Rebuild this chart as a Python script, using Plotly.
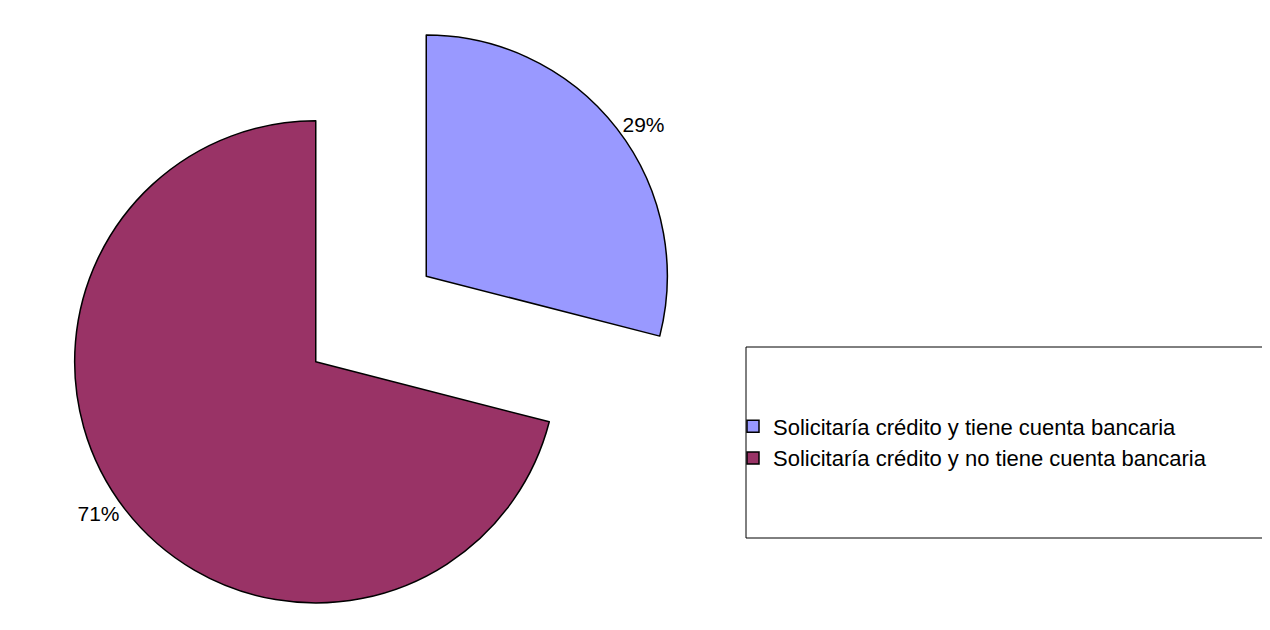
import plotly.graph_objects as go

categories = [
    "Solicitaría crédito y tiene cuenta bancaria",
    "Solicitaría crédito y no tiene cuenta bancaria",
]
values = [29, 71]
colors = ["#9999FF", "#993366"]

# page body has an 8px margin; size the figure to fill the rest of the window
OFF = 8
W, H = 1270 - OFF, 630 - OFF

fig = go.Figure()
cx = (371 - OFF) / W
fig.add_trace(go.Pie(
    labels=categories,
    values=values,
    sort=False,
    direction="clockwise",
    rotation=0,
    pull=[0.29, 0.29],
    marker=dict(colors=colors, line=dict(color="black", width=1.5)),
    textinfo="percent",
    textposition="outside",
    textfont=dict(family="Liberation Sans, Arial", size=21, color="black"),
    domain=dict(x=[cx - 0.25, cx + 0.25], y=[0.0, 1.0]),
    automargin=False,
    hoverinfo="label+percent",
))

# legend frame (screen coordinates of the reference, minus body offset)
lx0, lx1, ly0, ly1 = 746 - OFF, 1275 - OFF, 347 - OFF, 538 - OFF
fig.add_shape(type="rect", xref="paper", yref="paper",
              x0=lx0 / W, x1=lx1 / W, y0=1 - ly1 / H, y1=1 - ly0 / H,
              line=dict(color="black", width=1), fillcolor="rgba(0,0,0,0)")

fig.update_layout(
    width=W, height=H,
    margin=dict(l=0, r=0, t=0, b=0),
    paper_bgcolor="white",
    plot_bgcolor="white",
    showlegend=True,
    legend=dict(
        x=(733 - OFF) / W, y=1 - ((ly0 + ly1) / 2) / H,
        xanchor="left", yanchor="middle",
        font=dict(family="Liberation Sans, Arial", size=22, color="black"),
        bgcolor="rgba(0,0,0,0)",
        borderwidth=0,
        itemwidth=30,
        traceorder="grouped",
        tracegroupgap=66,
    ),
)

fig.write_html("out.html")
